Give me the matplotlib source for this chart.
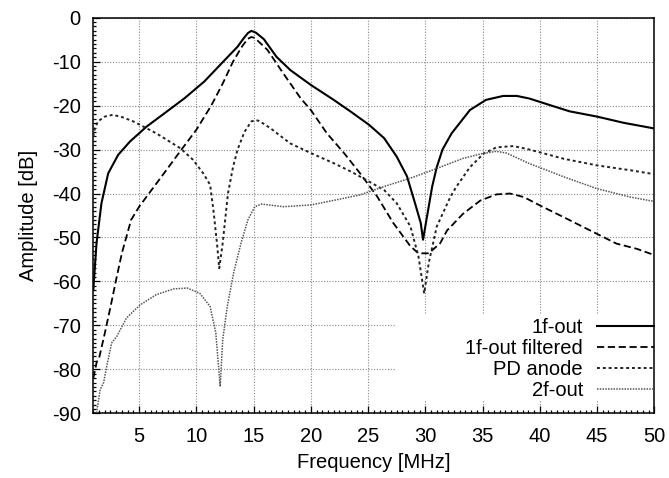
import numpy as np
import matplotlib
matplotlib.use("Agg")
import matplotlib.pyplot as plt
from matplotlib.patches import Rectangle

plt.rcParams['font.family'] = ['Liberation Sans', 'DejaVu Sans']
plt.rcParams['axes.unicode_minus'] = False

# 1f-out
freq_1f = [1.0, 1.1, 1.28, 1.71, 2.3, 3.17, 4.19, 5.64, 7.24, 8.98, 10.7, 12.2, 13.6, 14.1, 14.5, 14.8,
           15.2, 15.9, 17.0, 18.2, 20.0, 22.0, 23.5, 25.1, 26.4, 27.5, 28.4, 29.1, 29.6, 29.8,
           30.15, 30.6, 31.0, 31.5, 32.3, 33.9, 35.3, 36.8, 38.0, 39.1, 40.9, 42.6, 45.0, 47.3, 50.0]
db_1f = [-62, -58, -51.3, -42.2, -35.4, -31.2, -28.2, -24.8, -21.7, -18.3, -14.5, -10.4, -6.6, -4.8, -3.5, -3.0,
         -3.4, -4.9, -8.9, -11.9, -15.3, -18.7, -21.4, -24.4, -27.4, -31.6, -36.1, -42.2, -46.7, -50.5,
         -45.2, -38.4, -34.0, -30.0, -26.3, -21.0, -18.7, -17.8, -17.8, -18.4, -19.9, -21.3, -22.5, -23.9, -25.2]

# 1f-out filtered
freq_filt = [1.0, 1.3, 1.5, 2.0, 2.5, 3.0, 3.5, 4.3, 5.0, 6.0, 7.0, 8.7, 10.0, 11.3, 12.3, 13.2, 14.0, 14.5, 14.8,
             15.1, 16.2, 17.6, 19.1, 20.0, 21.4, 22.9, 24.3, 25.8, 27.2, 28.7, 29.4, 30.3, 31.3,
             31.9, 33.3, 34.8, 36.2, 37.4, 38.6, 40.0, 42.1, 44.4, 46.7, 48.5, 50.0]
db_filt = [-82, -78.3, -77.5, -71.8, -65.8, -59.5, -53.5, -46.0, -43.0, -39.5, -36.0, -30.0, -25.5, -20.0, -15.0, -10.0, -6.5, -4.8, -4.4,
           -4.6, -7.3, -12.7, -18.3, -21.0, -26.3, -30.8, -35.4, -40.7, -46.7, -52.0, -53.6, -53.6, -51.3,
           -48.4, -44.6, -41.6, -40.2, -40.0, -40.8, -42.7, -45.4, -48.4, -51.4, -52.6, -54.0]

# PD anode
freq_pd = [1.0, 1.13, 1.4, 2.0, 2.7, 3.5, 4.5, 6.5, 8.6, 9.7, 10.6, 11.2, 11.5, 11.8, 12.0, 12.3, 12.76,
           13.2, 13.6, 14.2, 14.8, 15.2, 15.5, 16.5, 18.2, 20.0, 22.0, 23.5, 25.1, 26.4, 27.5, 28.7,
           29.4, 29.9, 30.3, 31.0, 32.2, 32.7, 33.9, 35.1, 36.2, 37.7, 39.1, 42.1, 45.0, 47.9, 50.0]
db_pd = [-27.0, -25.2, -23.6, -22.5, -22.1, -22.6, -23.6, -26.3, -29.7, -32.3, -35.4, -38.0, -44.0, -51.3, -57.0, -51.3, -40.0,
         -34.0, -30.0, -26.0, -23.6, -23.3, -23.5, -25.2, -28.6, -30.8, -33.1, -35.0, -37.3, -39.2, -42.2, -47.5,
         -54.3, -62.7, -55.8, -47.5, -40.7, -38.5, -34.0, -30.9, -29.5, -29.2, -30.0, -32.1, -33.6, -34.7, -35.6]

# 2f-out
freq_2f = [1.1, 1.3, 1.6, 1.9, 2.17, 2.6, 3.05, 3.9, 5.1, 6.5, 8.0, 9.2, 10.3, 11.2, 11.7, 12.08, 12.3,
           12.7, 13.25, 13.9, 14.5, 15.1, 15.7, 17.6, 20.0, 22.3, 24.3, 26.4, 28.7, 30.7, 33.3,
           35.0, 36.2, 37.1, 39.1, 42.1, 45.0, 47.9, 50.0]
db_2f = [-93, -89.5, -84.6, -83.0, -79.3, -74.0, -72.5, -68.3, -65.3, -63.0, -61.7, -61.5, -62.7, -65.7, -71.7, -83.9, -73.3,
         -65.7, -58.1, -51.3, -46.0, -43.0, -42.4, -43.0, -42.6, -41.4, -40.3, -38.4, -36.5, -34.6, -32.0,
         -30.9, -30.4, -30.8, -33.2, -36.2, -38.9, -40.8, -41.8]

labels = ['1f-out', '1f-out filtered', 'PD anode', '2f-out']
x_ticks = [5, 10, 15, 20, 25, 30, 35, 40, 45, 50]
y_ticks = [-90, -80, -70, -60, -50, -40, -30, -20, -10, 0]

styles = [dict(color='black', lw=1.5, ls='-'),
          dict(color='black', lw=1.3, ls=(0, (4, 2))),
          dict(color='#222222', lw=1.4, ls=(0, (1.5, 1.5))),
          dict(color='#555555', lw=1.1, ls=(0, (1, 0.8)))]

fig = plt.figure(figsize=(6.69, 4.78), dpi=100)
ax = fig.add_axes([0.1395, 0.1353, 0.8385, 0.8277])
ax.set_axisbelow(True)

series = [(freq_1f, db_1f), (freq_filt, db_filt), (freq_pd, db_pd), (freq_2f, db_2f)]
for (f, d), st in zip(series, styles):
    ax.plot(f, d, zorder=3, **st)

ax.set_xlim(1, 50)
ax.set_ylim(-90, 0)
ax.set_xticks(x_ticks)
ax.set_yticks(y_ticks)
ax.set_xticks(np.arange(1, 50.01, 0.5), minor=True)
ax.set_yticks(np.arange(-90, 0.01, 1), minor=True)
ax.tick_params(which='both', direction='in', top=False, right=False, width=0.9, labelsize=14.5)
ax.tick_params(which='major', length=4.7)
ax.tick_params(which='minor', length=2.4)
ax.tick_params(axis='x', pad=10)
ax.tick_params(axis='y', pad=9)
ax.grid(True, which='major', color='#888888', lw=0.8, ls=(0, (1, 1.5)))
for s in ax.spines.values():
    s.set_linewidth(1.1)

ax.set_xlabel('Frequency [MHz]', fontsize=14.5, labelpad=5)
ax.set_ylabel('Amplitude [dB]', fontsize=14.5, labelpad=10)

# gnuplot-style key: white area, right-aligned text, sample line on the right
ax.add_patch(Rectangle((0.538, 0.034), 0.462, 0.215, transform=ax.transAxes,
                       facecolor='white', edgecolor='none', zorder=1))
key_y = [0.2213, 0.1683, 0.1152, 0.0622]
for lab, st, y in zip(labels, styles, key_y):
    ax.text(0.873, y - 0.0176, lab, transform=ax.transAxes, ha='right', va='baseline',
            fontsize=14.5, zorder=4)
    ax.plot([0.898, 1.0], [y, y], transform=ax.transAxes, clip_on=False, zorder=4, **st)

fig.savefig('out.png', dpi=100)
